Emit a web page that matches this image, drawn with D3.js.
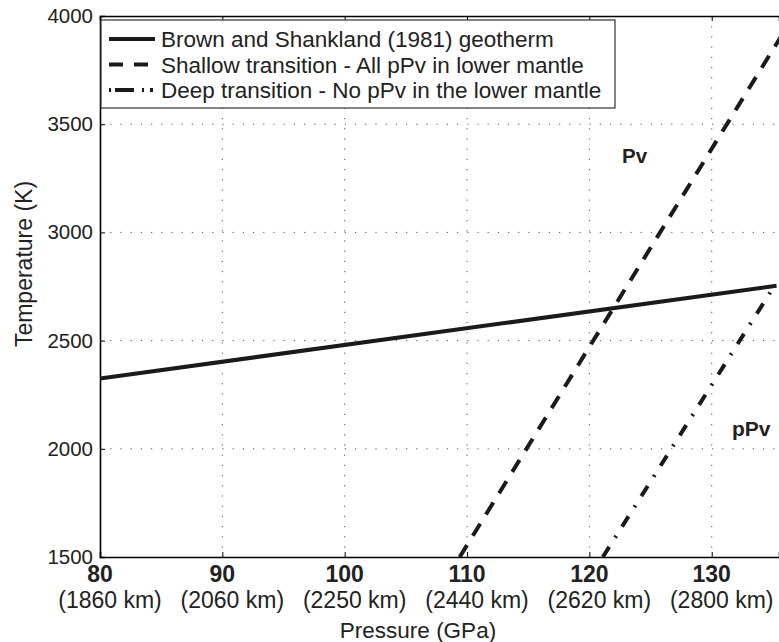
<!DOCTYPE html>
<html>
<head>
<meta charset="utf-8">
<script src="https://cdn.jsdelivr.net/npm/d3@7"></script>
<style>
  body { margin: 0; background: #fff; }
  svg { display: block; font-family: "Liberation Sans", Arial, sans-serif; }
</style>
</head>
<body>
<svg id="chart"></svg>
<script>
// values
var pressureTicks = [80, 90, 100, 110, 120, 130]
var depthLabels = ["(1860 km)", "(2060 km)", "(2250 km)", "(2440 km)", "(2620 km)", "(2800 km)"]
var tempTicks = [1500, 2000, 2500, 3000, 3500, 4000]

var geothermP = [80, 135.3]
var geothermT = [2325, 2753]
var shallowP = [109.4, 136.7]
var shallowT = [1500, 4000]
var deepP = [121.1, 135.2]
var deepT = [1500, 2760]

var legendLabels = [
  "Brown and Shankland (1981) geotherm",
  "Shallow transition - All pPv in lower mantle",
  "Deep transition - No pPv in the lower mantle"
]
var legendDash = ["none", "14,11", "12,11,2,11"]

var dimensions = {
  width: 779,
  height: 642,
  margin: { top: 16, bottom: 85, right: 0, left: 100 }
}

var svg = d3.select("#chart")
  .attr("width", dimensions.width)
  .attr("height", dimensions.height)

var x = d3.scaleLinear()
  .domain([80, 135.5])
  .range([dimensions.margin.left, dimensions.width - dimensions.margin.right])

var y = d3.scaleLinear()
  .domain([1500, 4000])
  .range([dimensions.height - dimensions.margin.bottom, dimensions.margin.top])

var plotLeft = x.range()[0], plotRight = x.range()[1]
var plotTop = y.range()[1], plotBottom = y.range()[0]

svg.append("defs").append("clipPath").attr("id", "plotclip")
  .append("rect")
    .attr("x", plotLeft).attr("y", plotTop)
    .attr("width", plotRight - plotLeft).attr("height", plotBottom - plotTop)

// dotted grid
var grid = svg.append("g")
grid.selectAll(".gx")
  .data(pressureTicks.slice(1))
  .enter().append("line")
    .attr("x1", function(d) { return x(d) }).attr("x2", function(d) { return x(d) })
    .attr("y1", plotTop).attr("y2", plotBottom)
    .attr("stroke", "#555").attr("stroke-width", 1)
    .attr("stroke-dasharray", "1.2,9")
grid.selectAll(".gy")
  .data(tempTicks.slice(1, -1))
  .enter().append("line")
    .attr("x1", plotLeft).attr("x2", plotRight)
    .attr("y1", function(d) { return y(d) }).attr("y2", function(d) { return y(d) })
    .attr("stroke", "#555").attr("stroke-width", 1)
    .attr("stroke-dasharray", "1.2,9")

// axes (inward ticks, MATLAB style)
svg.append("g")
  .attr("transform", "translate(0," + plotBottom + ")")
  .call(d3.axisTop(x).tickValues(pressureTicks).tickSize(5).tickFormat(""))
  .call(function(g) { g.select(".domain").attr("stroke-width", 1.6) })
svg.append("g")
  .attr("transform", "translate(0," + plotTop + ")")
  .call(d3.axisBottom(x).tickValues(pressureTicks).tickSize(5).tickFormat(""))
  .call(function(g) { g.select(".domain").attr("stroke-width", 1.6) })
svg.append("g")
  .attr("transform", "translate(" + plotLeft + ",0)")
  .call(d3.axisRight(y).tickValues(tempTicks).tickSize(5).tickFormat(""))
  .call(function(g) { g.select(".domain").attr("stroke-width", 1.6) })

// tick labels
svg.append("g").selectAll("text")
  .data(tempTicks)
  .enter().append("text")
    .text(function(d) { return d })
    .attr("x", plotLeft - 7)
    .attr("y", function(d) { return y(d) + 7 })
    .attr("text-anchor", "end")
    .style("font-size", "20.5px")
    .attr("fill", "#222")

svg.append("g").selectAll("text")
  .data(pressureTicks)
  .enter().append("text")
    .text(function(d) { return d })
    .attr("x", function(d) { return x(d) })
    .attr("y", plotBottom + 25)
    .attr("text-anchor", "middle")
    .style("font-size", "23px")
    .style("font-weight", "bold")
    .attr("fill", "#222")

// depth labels sit a little right of their ticks in the original
svg.append("g").selectAll("text")
  .data(depthLabels)
  .enter().append("text")
    .text(function(d) { return d })
    .attr("x", function(d, i) { return x(pressureTicks[i]) + 10 })
    .attr("y", plotBottom + 51)
    .attr("text-anchor", "middle")
    .style("font-size", "23px")
    .attr("fill", "#222")

svg.append("text")
  .text("Pressure (GPa)")
  .attr("x", 418)
  .attr("y", 638)
  .attr("text-anchor", "middle")
  .style("font-size", "22.5px")
  .attr("fill", "#222")

svg.append("text")
  .text("Temperature (K)")
  .attr("text-anchor", "middle")
  .style("font-size", "23px")
  .attr("fill", "#222")
  .attr("transform", "translate(32, 264) rotate(-90)")

// lines
var plot = svg.append("g").attr("clip-path", "url(#plotclip)")
var line = d3.line()
  .x(function(d) { return x(d[0]) })
  .y(function(d) { return y(d[1]) })

var series = [
  { P: geothermP, T: geothermT, dash: legendDash[0] },
  { P: shallowP, T: shallowT, dash: legendDash[1] },
  { P: deepP, T: deepT, dash: legendDash[2] }
]

plot.selectAll("path")
  .data(series)
  .enter().append("path")
    .attr("d", function(s) { return line(d3.zip(s.P, s.T)) })
    .attr("fill", "none")
    .attr("stroke", "#1a1a1a")
    .attr("stroke-width", 4)
    .attr("stroke-dasharray", function(s) { return s.dash })

// phase labels
svg.append("text").text("Pv")
  .attr("x", 622).attr("y", 163)
  .style("font-size", "20.5px").style("font-weight", "bold").attr("fill", "#222")
svg.append("text").text("pPv")
  .attr("x", 732).attr("y", 436)
  .style("font-size", "21px").style("font-weight", "bold").attr("fill", "#222")

// legend
var legend = svg.append("g")
legend.append("rect")
  .attr("x", 101).attr("y", 20)
  .attr("width", 514).attr("height", 88)
  .attr("fill", "white").attr("stroke", "#333").attr("stroke-width", 1.2)

var rows = legend.selectAll(".row")
  .data(legendLabels)
  .enter().append("g")
    .attr("transform", function(d, i) { return "translate(0," + (39 + i * 25.5) + ")" })

rows.append("line")
  .attr("x1", 109).attr("x2", 155)
  .attr("stroke", "#1a1a1a").attr("stroke-width", 4)
  .attr("stroke-dasharray", function(d, i) { return i == 2 ? "2,4,19,8,2,6,3" : legendDash[i] })

rows.append("text")
  .text(function(d) { return d })
  .attr("x", 161)
  .attr("y", 8)
  .style("font-size", "22.5px")
  .attr("fill", "#222")
</script>
</body>
</html>
